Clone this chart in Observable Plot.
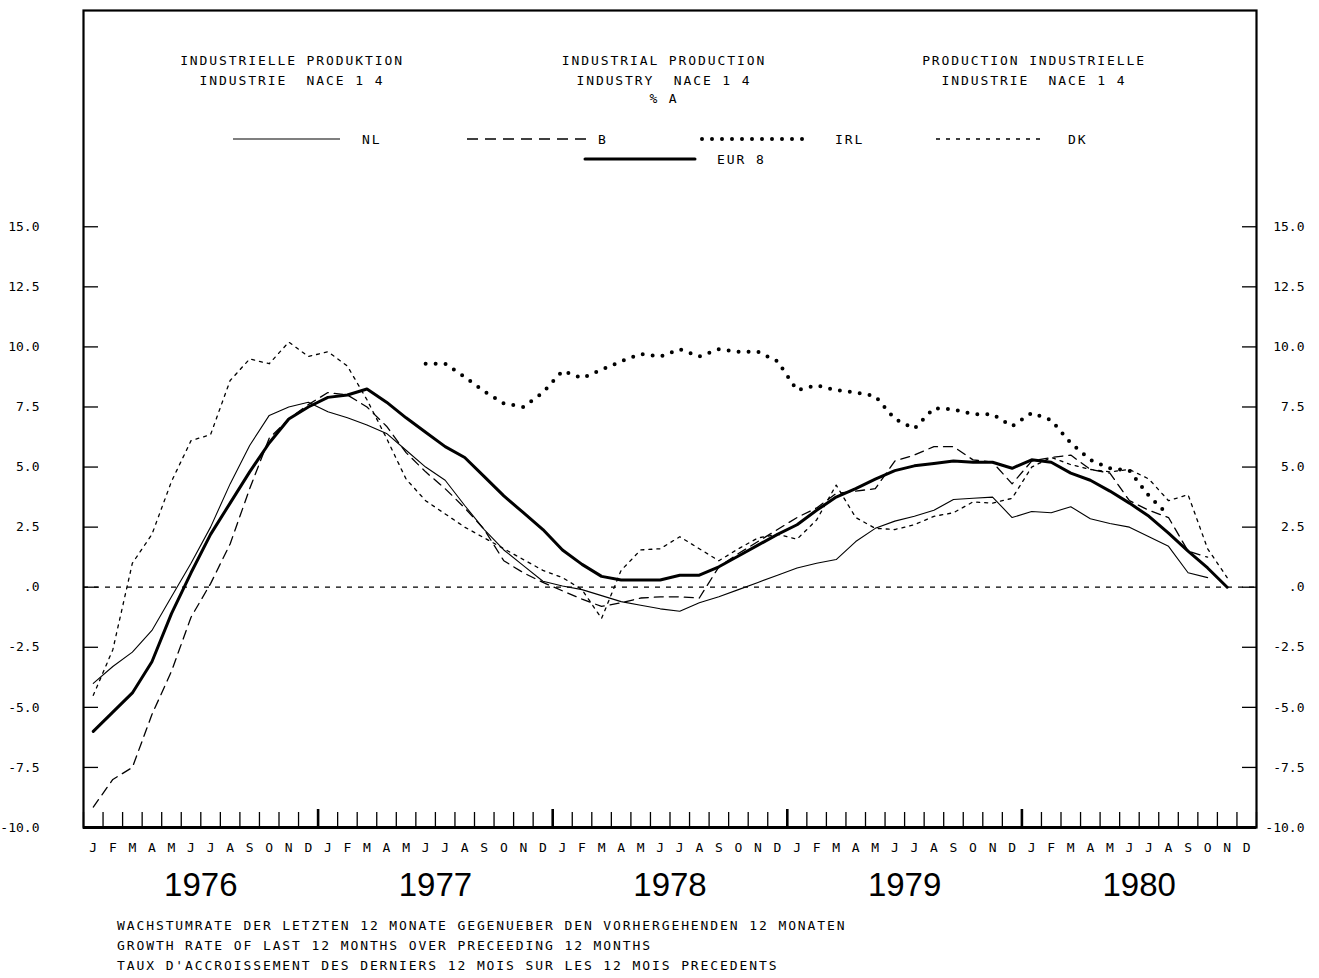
<!DOCTYPE html>
<html><head><meta charset="utf-8">
<script src="https://cdn.jsdelivr.net/npm/d3@7"></script>
<script src="https://cdn.jsdelivr.net/npm/@observablehq/plot@0.6"></script>
<style>
html,body{margin:0;padding:0;background:#fff;overflow:hidden}
#wrap{position:relative;width:1319px;height:978px;font-family:"DejaVu Sans Mono",monospace;color:#000}
#overlay{position:absolute;left:0;top:0;pointer-events:none}
#footer{position:absolute;left:117px;top:916px;font-size:13px;letter-spacing:1.9px;line-height:20px;white-space:pre}
</style></head><body>
<div id="wrap"><div id="chart"></div><svg id="overlay" width="1319" height="180"></svg><div id="footer"></div></div>
<script>
// ---- data (monthly, Jan 1976 = index 0) ----
const months = ["J","F","M","A","M","J","J","A","S","O","N","D"];
const years = ["1976","1977","1978","1979","1980"];
const yTicks = [-10,-7.5,-5,-2.5,0,2.5,5,7.5,10,12.5,15];

const nlStart = 0;
const nl = [-4.0,-3.3,-2.7,-1.8,-0.4,1.0,2.5,4.3,5.9,7.15,
            7.5,7.7,7.3,7.05,6.75,6.4,5.7,5.0,4.45,3.4,
            2.4,1.55,0.9,0.25,0.05,-0.1,-0.35,-0.6,-0.75,-0.9,
            -1.0,-0.65,-0.4,-0.1,0.2,0.5,0.8,1.0,1.15,1.9,
            2.45,2.75,2.95,3.2,3.65,3.7,3.75,2.9,3.15,3.1,
            3.35,2.85,2.65,2.5,2.1,1.7,0.6,0.4];
const bStart = 0;
const b = [-9.15,-8.0,-7.5,-5.3,-3.5,-1.25,0.15,1.8,4.1,6.2,
           7.0,7.6,8.1,8.0,7.5,6.7,5.6,4.8,4.1,3.3,
           2.4,1.1,0.6,0.2,-0.15,-0.5,-0.8,-0.65,-0.45,-0.4,
           -0.4,-0.45,0.85,1.4,1.9,2.4,2.9,3.3,3.9,4.0,
           4.1,5.25,5.5,5.85,5.85,5.3,5.2,4.3,5.25,5.4,
           5.5,4.9,4.75,3.6,3.2,2.9,1.5,1.25];
const irlStart = 17;
const irl = [9.3,9.3,8.75,8.15,7.65,7.5,8.1,9.0,8.7,9.05,
             9.4,9.7,9.6,9.9,9.6,9.9,9.8,9.8,9.4,8.2,
             8.4,8.2,8.1,7.95,7.0,6.6,7.45,7.4,7.2,7.2,
             6.7,7.25,6.95,6.0,5.3,4.95,4.85,3.8,3.0];
const dkStart = 0;
const dk = [-4.5,-2.6,1.0,2.2,4.4,6.1,6.35,8.6,9.5,9.3,
            10.2,9.6,9.8,9.2,7.8,6.2,4.5,3.6,3.05,2.5,
            2.05,1.6,1.15,0.7,0.4,-0.1,-1.3,0.7,1.55,1.6,
            2.1,1.6,1.1,1.6,2.05,2.2,2.0,2.8,4.25,2.9,
            2.45,2.4,2.6,2.95,3.1,3.55,3.5,3.7,5.0,5.4,
            5.1,4.9,4.8,4.9,4.5,3.6,3.85,1.6,0.4];
const eurStart = 0;
const eur = [-6.0,-5.2,-4.4,-3.1,-1.1,0.6,2.2,3.5,4.8,6.0,
             7.0,7.5,7.9,8.0,8.25,7.7,7.05,6.45,5.85,5.4,
             4.6,3.8,3.1,2.4,1.55,0.95,0.45,0.3,0.3,0.3,
             0.5,0.5,0.85,1.3,1.75,2.2,2.6,3.2,3.75,4.1,
             4.5,4.85,5.05,5.15,5.25,5.2,5.2,4.95,5.3,5.2,
             4.75,4.45,4.0,3.5,2.95,2.25,1.5,0.8,0.0];

const titles = [
  ["INDUSTRIELLE PRODUKTION","INDUSTRIE  NACE 1 4"],
  ["INDUSTRIAL PRODUCTION","INDUSTRY  NACE 1 4","% A"],
  ["PRODUCTION INDUSTRIELLE","INDUSTRIE  NACE 1 4"]
];
const footerLines = [
  "WACHSTUMRATE DER LETZTEN 12 MONATE GEGENUEBER DEN VORHERGEHENDEN 12 MONATEN",
  "GROWTH RATE OF LAST 12 MONTHS OVER PRECEEDING 12 MONTHS",
  "TAUX D'ACCROISSEMENT DES DERNIERS 12 MOIS SUR LES 12 MOIS PRECEDENTS"
];

// ---- series & styles ----
const series = [
  {key:"NL", values:nl, start:nlStart},
  {key:"B", values:b, start:bStart},
  {key:"IRL", values:irl, start:irlStart},
  {key:"DK", values:dk, start:dkStart},
  {key:"EUR 8", values:eur, start:eurStart}
];
const styleOf = {
  "NL":    {strokeWidth:1.1},
  "B":     {strokeWidth:1.3, strokeDasharray:"9,6", legendDash:"11,7"},
  "IRL":   {strokeWidth:4, strokeDasharray:"0,10", strokeLinecap:"round"},
  "DK":    {strokeWidth:1.3, strokeDasharray:"3,5", legendDash:"4,6"},
  "EUR 8": {strokeWidth:3, strokeLinejoin:"round", strokeLinecap:"round"}
};
const rowsOf = s => s.values.map((v,k) => ({m: s.start + k + 0.5, v}));
const fmt = v => v === 0 ? ".0" : v.toFixed(1);

const mono = "'DejaVu Sans Mono', monospace";
const lineOpts = st => ({strokeWidth: st.strokeWidth, strokeDasharray: st.strokeDasharray,
  strokeLinecap: st.strokeLinecap, strokeLinejoin: st.strokeLinejoin});
const chart = Plot.plot({
  width:1319, height:905,
  marginLeft:83, marginRight:63, marginTop:10, marginBottom:78,
  x:{domain:[0,60], axis:null},
  y:{domain:[-10,24], axis:null},
  style:{fontFamily:mono, fontSize:"13px", color:"#000", background:"#fff"},
  marks:[
    Plot.ruleY([0], {strokeDasharray:"5,6", strokeWidth:1.3}),
    ...series.map(s => Plot.line(rowsOf(s), {x:"m", y:"v", stroke:"#000", ...lineOpts(styleOf[s.key])})),
    Plot.frame({strokeWidth:2.2}),
    Plot.ruleY([-10], {strokeWidth:3}),
    Plot.axisY(yTicks, {anchor:"left", tickSize:15, dx:15, fill:"none", label:null, strokeWidth:1.3}),
    Plot.axisY(yTicks, {anchor:"right", tickSize:15, dx:-15, fill:"none", label:null, strokeWidth:1.3}),
    Plot.axisY(yTicks, {anchor:"left", tickSize:0, tickPadding:44, tickFormat:fmt, label:null, fontSize:13}),
    Plot.axisY(yTicks, {anchor:"right", tickSize:0, tickPadding:48, textAnchor:"end", tickFormat:fmt, label:null, fontSize:13}),
    Plot.axisX(d3.range(0,61), {anchor:"bottom", tickSize:15, dy:-15, fill:"none", label:null, strokeWidth:1.3}),
    Plot.axisX([12,24,36,48], {anchor:"bottom", tickSize:18, dy:-18, fill:"none", label:null, strokeWidth:2.6}),
    Plot.axisX(d3.range(60).map(i => i + 0.5), {anchor:"bottom", tickSize:0, tickPadding:15,
      tickFormat:d => months[Math.floor(d) % 12], label:null, fontSize:13}),
    Plot.axisX(years.map((_,k) => k*12 + 6), {anchor:"bottom", tickSize:0, tickPadding:45,
      tickFormat:d => years[(d - 6) / 12], label:null, fontSize:33,
      fontFamily:"'Liberation Sans',Arial,sans-serif"})
  ]
});
document.getElementById("chart").appendChild(chart);

// ---- titles and legend inside the frame (overlay) ----
const ov = d3.select("#overlay");
const txt = (x, y, s, anchor) => ov.append("text").attr("x", x).attr("y", y).text(s)
  .attr("text-anchor", anchor).attr("font-family", mono).attr("font-size", 13)
  .style("letter-spacing", "1.9px").style("white-space", "pre");
const titleX = [292, 664, 1034];
const titleY = [65, 85, 103];
titles.forEach((lines, c) => lines.forEach((s, r) => txt(titleX[c], titleY[r], s, "middle")));

const legendLayout = {
  "NL":    {x1:233, x2:340, y:139, lx:362},
  "B":     {x1:467, x2:590, y:139, lx:598},
  "IRL":   {x1:702, x2:806, y:139, lx:835},
  "DK":    {x1:936, x2:1046, y:139, lx:1068},
  "EUR 8": {x1:585, x2:695, y:159, lx:717}
};
series.forEach(s => {
  const L = legendLayout[s.key], st = styleOf[s.key];
  ov.append("line").attr("x1", L.x1).attr("x2", L.x2).attr("y1", L.y).attr("y2", L.y)
    .attr("stroke", "#000").attr("stroke-width", st.strokeWidth)
    .attr("stroke-dasharray", st.legendDash || st.strokeDasharray || null)
    .attr("stroke-linecap", st.strokeLinecap || null);
  txt(L.lx, L.y + 5, s.key, "start");
});

// ---- footer ----
const ft = d3.select("#footer");
footerLines.forEach(s => ft.append("div").text(s));
</script></body></html>
